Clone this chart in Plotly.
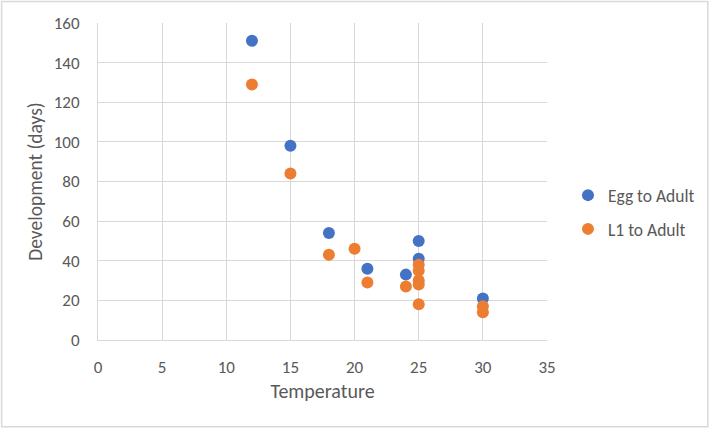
import plotly.graph_objects as go

egg_temp = [12, 15, 18, 21, 24, 25, 25, 30]
egg_days = [151, 98, 54, 36, 33, 50, 41, 21]
l1_temp = [12, 15, 18, 20, 21, 24, 25, 25, 25, 25, 25, 30, 30]
l1_days = [129, 84, 43, 46, 29, 27, 38, 35, 30, 28, 18, 17, 14]

W, H = 709, 428
L, R, T, B = 97.5, 547, 22.5, 340
pw, ph = R - L, B - T

font = dict(family="Carlito, Noto Sans, Open Sans, sans-serif", color="#595959")

fig = go.Figure()
fig.add_trace(go.Scatter(x=egg_temp, y=egg_days, mode="markers", name="Egg to Adult",
                         legendgroup="a",
                         marker=dict(color="#4472C4", size=12)))
fig.add_trace(go.Scatter(x=l1_temp, y=l1_days, mode="markers", name="L1 to Adult",
                         legendgroup="b",
                         marker=dict(color="#ED7D31", size=12)))

fig.update_layout(
    width=W, height=H,
    margin=dict(l=L, r=W - R, t=T, b=H - B, autoexpand=False),
    paper_bgcolor="white", plot_bgcolor="white",
    font=dict(size=17, **font),
    showlegend=True,
    legend=dict(x=(568 - L) / pw, y=(B - 177) / ph, xanchor="left", yanchor="top",
                font=dict(size=17.5, **font), tracegroupgap=8, itemsizing="constant",
                traceorder="grouped", itemwidth=30),
    xaxis=dict(range=[0, 35], dtick=5, tick0=0, showgrid=True, gridcolor="#d9d9d9",
               gridwidth=1, showline=True, linecolor="#d9d9d9", zeroline=False,
               ticks="", ticklabelstandoff=12, automargin=False,
               title=dict(text="Temperature", font=dict(size=20, **font), standoff=6)),
    yaxis=dict(range=[0, 160], dtick=20, showgrid=True, gridcolor="#d9d9d9",
               gridwidth=1, showline=True, linecolor="#d9d9d9", zeroline=False,
               ticks="", ticklabelstandoff=14, automargin=False,
               title=dict(text="Development (days)", font=dict(size=19.5, **font), standoff=5)),
    shapes=[dict(type="rect", xref="paper", yref="paper",
                 x0=(1 - L) / pw, x1=(708 - L) / pw,
                 y0=(B - 427) / ph, y1=(B - 1) / ph,
                 line=dict(color="#d9d9d9", width=1.5), layer="below")],
)

fig.write_html("out.html", config={"displayModeBar": False},
               post_script="document.body.style.margin='0';")
